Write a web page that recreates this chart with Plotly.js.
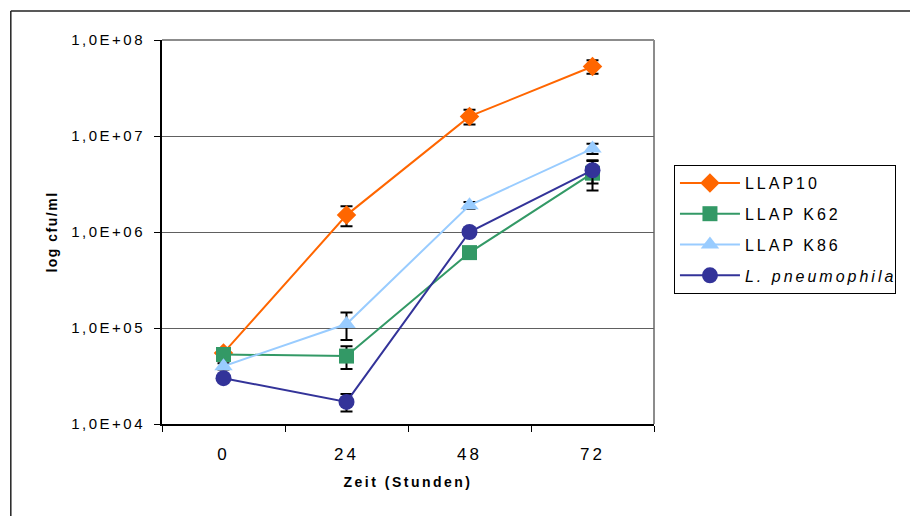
<!DOCTYPE html>
<html>
<head>
<meta charset="utf-8">
<script src="https://cdn.plot.ly/plotly-3.0.1.min.js"></script>
<style>
  html, body { margin: 0; padding: 0; background: #fff; }
  #chart { width: 910px; height: 516px; }
  #chart .ytick text { letter-spacing: 2.5px; }
  #chart .xtick text { letter-spacing: 3px; }
  #chart .xtitle { letter-spacing: 2.5px; }
  #chart .ytitle { letter-spacing: 1.5px; }
  #chart .legendtext { letter-spacing: 3px; }
</style>
</head>
<body>
<div id="chart"></div>
<script>
// ---- data ----
var timeLabels = ['0', '24', '48', '72'];
var seriesNames = ['LLAP10', 'LLAP K62', 'LLAP K86', '<i>L. pneumophila</i>'];

var llap10    = [5.5e4, 1.5e6, 1.6e7, 5.3e7];
var llap10Err = [3.0e3, 3.5e5, 2.8e6, 8.5e6];

var llapK62    = [5.3e4, 5.1e4, 6.1e5, 4.1e6];
var llapK62Err = [4.0e3, 1.35e4, 5.0e4, 1.4e6];

var llapK86    = [4.0e4, 1.1e5, 1.9e6, 7.4e6];
var llapK86Err = [3.0e3, 3.5e4, 1.5e5, 9.0e5];

var lpneu    = [3.0e4, 1.7e4, 1.0e6, 4.4e6];
var lpneuErr = [2.0e3, 3.5e3, 5.0e4, 1.2e6];

var yTickVals = [1e4, 1e5, 1e6, 1e7, 1e8];
var yTickText = ['1,0E+04', '1,0E+05', '1,0E+06', '1,0E+07', '1,0E+08'];

// ---- styles ----
var FONT = '"Liberation Sans", Arial, sans-serif';
var colors = ['#FF6600', '#339966', '#99CCFF', '#333399'];
var symbols = ['diamond', 'square', 'triangle-up', 'circle'];
var sizes = [15, 15, 16, 16];
var values = [llap10, llapK62, llapK86, lpneu];
var errs = [llap10Err, llapK62Err, llapK86Err, lpneuErr];
// trailing no-break spaces widen the measured legend box to allow for letter spacing
var legendPad = ['', '', '', '\u00a0\u00a0\u00a0\u00a0\u00a0\u00a0\u00a0\u00a0'];

var traces = values.map(function (v, i) {
  return {
    type: 'scatter',
    mode: 'lines+markers',
    x: timeLabels,
    y: v,
    name: seriesNames[i] + legendPad[i],
    legendgroup: 'g' + i,
    line: { color: colors[i], width: 2 },
    marker: { color: colors[i], symbol: symbols[i], size: sizes[i], line: { width: 0 } },
    error_y: { type: 'data', array: errs[i], visible: true, color: '#000000', thickness: 2, width: 6 }
  };
});

function px2x(px) { return (px - 162) / 493; }
function px2y(py) { return (424 - py) / 384; }

var layout = {
  width: 910,
  height: 516,
  margin: { l: 162, r: 256, t: 40, b: 92 },
  paper_bgcolor: '#ffffff',
  plot_bgcolor: '#ffffff',
  font: { family: FONT, color: '#000000' },
  showlegend: true,
  legend: {
    x: px2x(675), xanchor: 'left',
    y: px2y(165), yanchor: 'top',
    bordercolor: '#000000', borderwidth: 1,
    bgcolor: '#ffffff',
    font: { family: FONT, size: 16, color: '#000000' },
    traceorder: 'grouped',
    tracegroupgap: 7,
    itemwidth: 60
  },
  xaxis: {
    type: 'category',
    range: [-0.5, 3.5],
    tickson: 'boundaries',
    ticks: 'outside',
    ticklen: 6,
    tickcolor: '#000000',
    tickwidth: 1,
    showline: true,
    linecolor: '#000000',
    linewidth: 2,
    showgrid: false,
    zeroline: false,
    tickfont: { family: FONT, size: 17, color: '#000000' },
    ticklabelstandoff: 14,
    title: { text: '<b>Zeit (Stunden)</b>', font: { family: FONT, size: 14, color: '#000000' }, standoff: 14 },
    fixedrange: true
  },
  yaxis: {
    type: 'log',
    range: [4, 8],
    tickvals: yTickVals,
    ticktext: yTickText,
    ticks: 'outside',
    ticklen: 6,
    tickcolor: '#000000',
    tickwidth: 1,
    showline: true,
    linecolor: '#000000',
    linewidth: 2,
    showgrid: true,
    gridcolor: '#606060',
    gridwidth: 1,
    zeroline: false,
    tickfont: { family: FONT, size: 15, color: '#000000' },
    ticklabelstandoff: 6,
    title: { text: '<b>log cfu/ml</b>', font: { family: FONT, size: 14, color: '#000000' }, standoff: 28 },
    fixedrange: true
  },
  shapes: [
    // plot area top and right border (grey)
    { type: 'line', xref: 'paper', yref: 'paper', x0: 0, x1: 1, y0: 1, y1: 1, line: { color: '#8c8c8c', width: 2 }, layer: 'below' },
    { type: 'line', xref: 'paper', yref: 'paper', x0: 1, x1: 1, y0: 0, y1: 1, line: { color: '#8c8c8c', width: 2 }, layer: 'below' },
    // outer chart frame (left & top)
    { type: 'line', xref: 'paper', yref: 'paper', x0: px2x(10.5), x1: px2x(10.5), y0: px2y(11), y1: px2y(520), line: { color: '#222222', width: 1.5 } },
    { type: 'line', xref: 'paper', yref: 'paper', x0: px2x(10.5), x1: px2x(915), y0: px2y(11), y1: px2y(11), line: { color: '#222222', width: 1.5 } }
  ]
};

Plotly.newPlot('chart', traces, layout, { staticPlot: true, displayModeBar: false });
</script>
</body>
</html>
